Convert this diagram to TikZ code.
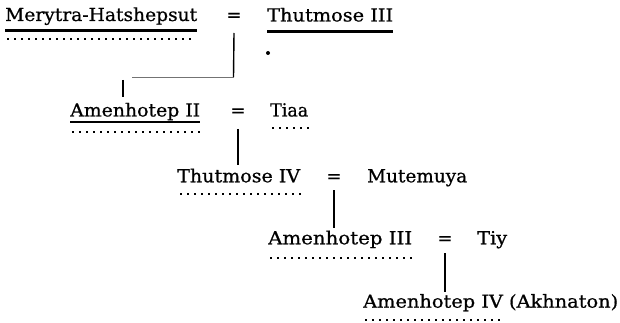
\documentclass[tikz,border=0pt]{standalone}
\usepackage{fontspec}
\usepackage{graphicx}
\setmainfont{DejaVu Serif}[FakeBold=0.7]
\newcommand\fitw[2]{\resizebox{#1pt}{\height}{#2}}
\begin{document}
\begin{tikzpicture}[x=1pt,y=-1pt,
  person/.style={anchor=base west,inner sep=0pt,font=\fontsize{18}{20}\selectfont},
  eqs/.style={anchor=base,inner sep=0pt,font=\fontsize{18}{20}\selectfont},
  conn/.style={line width=1.4pt,black},
  thin conn/.style={line width=0.8pt,black!55},
  heavy/.style={line width=2.5pt,black},
  dots/.style={line width=2pt,dash pattern=on 2pt off 5pt,black}]
\useasboundingbox (0,0) rectangle (620,323);
% row 1
\node[person] (mh) at (5,21) {\fitw{192}{Merytra-Hatshepsut}};
\node[eqs] (eq1) at (234,21) {=};
\node[person] (t3) at (267,21.5) {\fitw{126}{Thutmose III}};
% row 2
\node[person] (a2) at (70,116.5) {\fitw{130}{Amenhotep II}};
\node[eqs] (eq2) at (238,116.5) {=};
\node[person] (tiaa) at (270,116.5) {\fitw{38}{Tiaa}};
% row 3
\node[person] (t4) at (177,182.3) {\fitw{123}{Thutmose IV}};
\node[eqs] (eq3) at (334,182.3) {=};
\node[person] (mut) at (367,182.3) {\fitw{100}{Mutemuya}};
% row 4
\node[person] (a3) at (268,244.3) {\fitw{144}{Amenhotep III}};
\node[eqs] (eq4) at (445,244.3) {=};
\node[person] (tiy) at (477,244.3) {\fitw{30}{Tiy}};
% row 5
\node[person] (a4) at (363,307.7) {\fitw{255}{Amenhotep IV (Akhnaton)}};
% underlines
\draw[heavy] (5,30.5) -- (197,30.5);
\draw[heavy] (267,31.5) -- (393,31.5);
\draw[heavy] (70,122) -- (200,122);
% dotted lines
\draw[dots] (7,39.5) -- (195,39.5);
\draw[dots] (72,132.3) -- (202,132.3);
\draw[dots] (272,128.3) -- (310,128.3);
\draw[dots] (180,194) -- (305,194);
\draw[dots] (270,258.3) -- (414,258.3);
\draw[dots] (365,320) -- (502,320);
\fill (268,53) circle (2pt);
% connectors
\coordinate (j1) at (233.5,77);
\coordinate (j2) at (132,77);
\coordinate (c2top) at (123,80);
\coordinate (c2bot) at (123,97);
\draw[conn] (eq1.south |- 0,33) -- (j1);
\draw[thin conn] (j1) -- (j2);
\draw[conn] (c2top) -- (c2bot);
\draw[conn] (eq2.south |- 0,129) -- (eq2.south |- 0,165);
\draw[conn] (eq3.south |- 0,190) -- (eq3.south |- 0,228);
\draw[conn] (eq4.south |- 0,253) -- (eq4.south |- 0,292);
\end{tikzpicture}
\end{document}
